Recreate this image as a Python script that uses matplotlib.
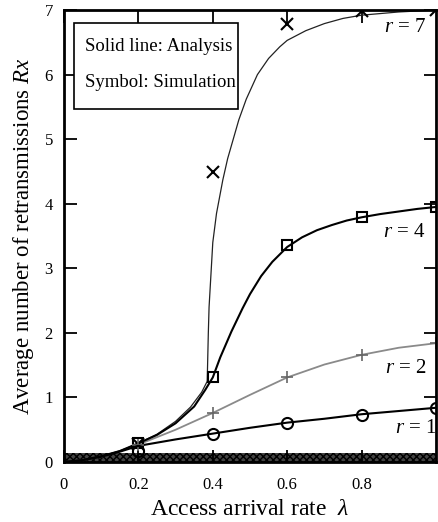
import matplotlib
matplotlib.use("Agg")
import matplotlib.pyplot as plt
from matplotlib.patches import Rectangle

plt.rcParams['font.family'] = ['Liberation Serif', 'DejaVu Serif']
plt.rcParams['mathtext.fontset'] = 'custom'
plt.rcParams['mathtext.rm'] = 'Liberation Serif'
plt.rcParams['mathtext.it'] = 'Liberation Serif:italic'

# analysis curves (lambda, Rx)
lam_r7 = [0.0, 0.05, 0.1, 0.15, 0.2, 0.25, 0.3, 0.34, 0.37, 0.385, 0.388, 0.39, 0.40,
          0.41, 0.427, 0.44, 0.454, 0.47, 0.49, 0.52, 0.55, 0.58, 0.6, 0.65, 0.7,
          0.75, 0.8, 0.9, 1.0]
ana_r7 = [0.0, 0.03, 0.09, 0.17, 0.29, 0.43, 0.63, 0.85, 1.08, 1.25, 2.0, 2.4, 3.4,
          3.85, 4.37, 4.7, 4.98, 5.3, 5.62, 6.0, 6.25, 6.43, 6.53, 6.68, 6.79,
          6.87, 6.92, 6.97, 7.0]
lam_r4 = [0.0, 0.05, 0.1, 0.15, 0.2, 0.25, 0.3, 0.35, 0.38, 0.4, 0.42, 0.45, 0.48,
          0.5, 0.53, 0.56, 0.6, 0.64, 0.68, 0.72, 0.76, 0.8, 0.85, 0.9, 0.95, 1.0]
ana_r4 = [0.0, 0.03, 0.09, 0.17, 0.29, 0.42, 0.6, 0.86, 1.12, 1.31, 1.62, 2.02, 2.38,
          2.6, 2.88, 3.1, 3.33, 3.48, 3.59, 3.67, 3.74, 3.79, 3.84, 3.88, 3.92, 3.95]
lam_r2 = [0.0, 0.05, 0.1, 0.15, 0.2, 0.3, 0.4, 0.5, 0.6, 0.7, 0.8, 0.9, 1.0]
ana_r2 = [0.0, 0.03, 0.08, 0.17, 0.27, 0.5, 0.76, 1.04, 1.31, 1.51, 1.66, 1.77, 1.84]
lam_r1 = [0.0, 0.05, 0.1, 0.15, 0.2, 0.3, 0.4, 0.5, 0.6, 0.7, 0.8, 0.9, 1.0]
ana_r1 = [0.0, 0.03, 0.08, 0.16, 0.25, 0.35, 0.44, 0.53, 0.61, 0.67, 0.74, 0.79, 0.84]

# simulation points
lam_sim = [0.2, 0.4, 0.6, 0.8, 1.0]
sim_r7 = [0.28, 4.49, 6.78, 6.98, 7.0]
sim_r4 = [0.29, 1.31, 3.36, 3.79, 3.95]
sim_r2 = [0.27, 0.76, 1.32, 1.66, 1.84]
sim_r1 = [0.17, 0.43, 0.60, 0.73, 0.83]

xticks = [0, 0.2, 0.4, 0.6, 0.8]
xticklabels = ['0', '0.2', '0.4', '0.6', '0.8']
yticks = [0, 1, 2, 3, 4, 5, 6, 7]

fig = plt.figure(figsize=(4.38, 5.22), dpi=100)
ax = fig.add_axes([0.1461, 0.1149, 0.8493, 0.8659])

# dense band of simulation marks along zero
ax.axhspan(0, 0.14, facecolor='#444444', edgecolor='black', hatch='xxxxx', lw=0, zorder=1)

ax.plot(lam_r7, ana_r7, color='#222222', lw=0.9, zorder=2)
ax.plot(lam_r4, ana_r4, color='black', lw=1.5, zorder=3)
ax.plot(lam_r2, ana_r2, color='#8a8a8a', lw=1.3, zorder=2)
ax.plot(lam_r1, ana_r1, color='black', lw=1.5, zorder=3)

ax.plot(lam_sim, sim_r7, ls='none', marker='x', ms=8, mew=1.5, color='black', zorder=4)
ax.plot(lam_sim, sim_r4, ls='none', marker='s', ms=7, mew=1.5, mfc='none', mec='black', zorder=4)
ax.plot(lam_sim, sim_r2, ls='none', marker='+', ms=8, mew=1.2, color='#666666', zorder=4)
ax.plot(lam_sim, sim_r1, ls='none', marker='o', ms=8, mew=1.5, mfc='none', mec='black', zorder=4)

ax.text(0.86, 6.73, r'$r$ = 7', fontsize=15, ha='left', va='center')
ax.text(0.858, 3.56, r'$r$ = 4', fontsize=15, ha='left', va='center')
ax.text(0.863, 1.45, r'$r$ = 2', fontsize=15, ha='left', va='center')
ax.text(0.89, 0.52, r'$r$ = 1', fontsize=15, ha='left', va='center')

ax.add_patch(Rectangle((0.027, 5.46), 0.441, 1.34, facecolor='white',
                       edgecolor='black', lw=1.2, zorder=5))
ax.text(0.056, 6.43, 'Solid line: Analysis', fontsize=13.5, va='center', zorder=6)
ax.text(0.056, 5.87, 'Symbol: Simulation', fontsize=13.5, va='center', zorder=6)

ax.set_xlim(0, 1.0)
ax.set_ylim(0, 7)
ax.set_xticks(xticks)
ax.set_xticklabels(xticklabels)
ax.set_yticks(yticks)
ax.tick_params(direction='in', length=9, width=1.3, top=True, right=True,
               labelsize=12)
ax.tick_params(axis='x', pad=11)
ax.tick_params(axis='y', pad=8)
for s in ax.spines.values():
    s.set_linewidth(2.0)
    s.set_zorder(7)

ax.set_xlabel(r'Access arrival rate  $\lambda$', fontsize=17, labelpad=4)
ax.set_ylabel(r'Average number of retransmissions $Rx$', fontsize=16.5, labelpad=6)

fig.savefig('out.png', dpi=100)
